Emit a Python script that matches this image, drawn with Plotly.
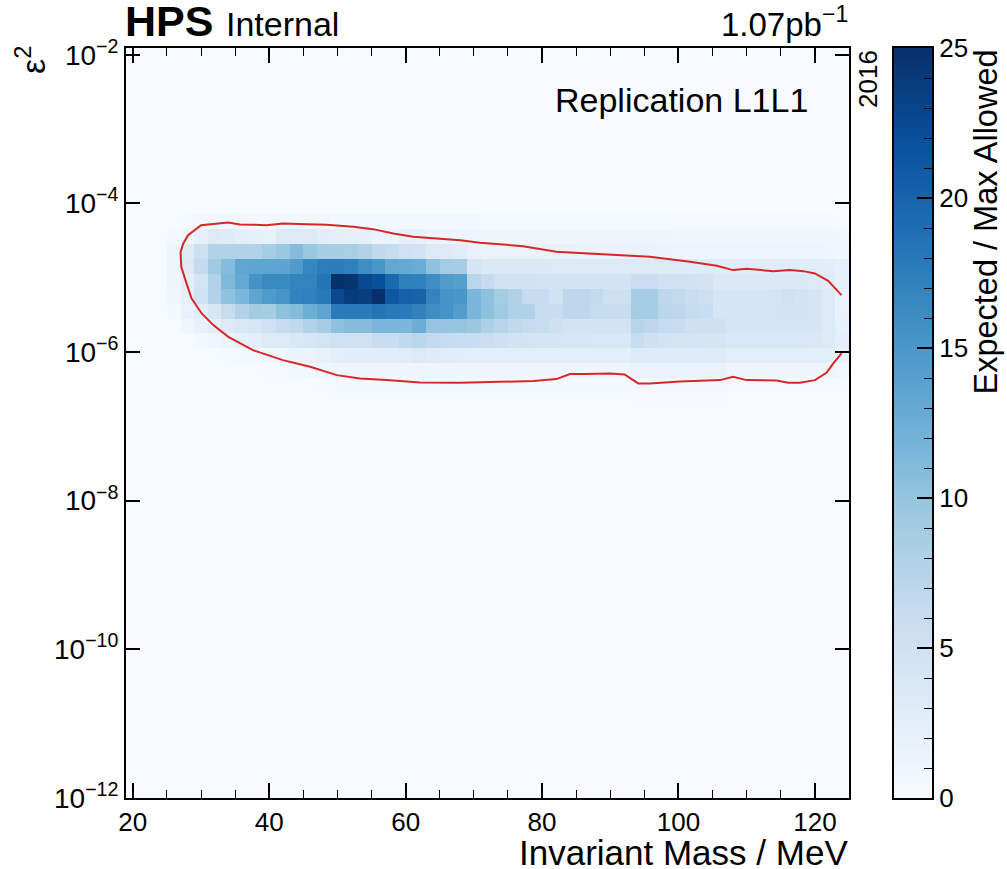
import plotly.graph_objects as go

FONT = "Liberation Sans, Arial, Helvetica, sans-serif"

# ---------------- data ----------------
# bin centres (MeV) and log10(eps^2) bin centres
mass_bins = list(range(20, 126, 2))                     # 53 columns
log_eps2_bins = [round(-12.05 + 0.2 * k, 2) for k in range(52)]

# expected / max allowed, one list per log10(eps^2) row (columns = mass_bins)
row_m4p25 = [0, 0, 0, 0.2, 0.4, 0.6, 0.7, 0.7, 0.7, 0.6,
             0.6, 0.7, 0.7, 0.7, 0.7, 0.6, 0.6, 0.6, 0.5, 0.5,
             0.5, 0.5, 0.5, 0.5, 0.5, 0.5, 0.4, 0.4, 0.4, 0.4,
             0.4, 0.4, 0.4, 0.4, 0.4, 0.4, 0.4, 0.4, 0.4, 0.4,
             0.3, 0.3, 0.3, 0.3, 0.3, 0.3, 0.3, 0.3, 0.3, 0.3,
             0.3, 0.3, 0.2]
row_m4p45 = [0, 0, 0.1, 0.5, 1.1, 2.1, 3.4, 3.0, 2.5, 2.2,
             2.0, 3.4, 3.4, 3.4, 2.8, 2.5, 2.2, 2.1, 1.6, 1.6,
             2.1, 2.1, 1.5, 1.5, 1.2, 1.2, 1.1, 1.1, 1.1, 1.1,
             1.1, 1.1, 1.1, 1.1, 1.1, 1.1, 1.1, 1.1, 1.1, 1.1,
             0.9, 0.9, 0.9, 0.9, 0.9, 0.9, 0.9, 0.9, 0.9, 0.9,
             0.9, 0.9, 0.7]
row_m4p65 = [0, 0, 0.2, 1.1, 3.0, 5.3, 7.9, 7.9, 7.9, 7.9,
             8.8, 9.6, 10.9, 9.6, 8.8, 8.6, 8.5, 7.9, 6.6, 6.3,
             5.1, 4.6, 3.4, 3.2, 2.9, 1.9, 1.8, 1.8, 1.8, 1.7,
             1.7, 1.7, 1.7, 1.6, 1.6, 1.6, 1.6, 1.6, 1.6, 1.5,
             1.3, 1.3, 1.3, 1.2, 1.2, 1.2, 1.2, 1.2, 1.2, 1.2,
             1.2, 1.1, 0.9]
row_m4p85 = [0, 0, 0.25, 1.1, 3.4, 6.4, 9.3, 10.9, 13.4, 13.5,
             13.5, 13.6, 14.6, 16.8, 17.6, 17.7, 17.3, 16.0, 15.2, 13.2,
             13.1, 12.7, 10.3, 8.9, 8.8, 4.2, 3.6, 3.5, 3.5, 3.5,
             3.5, 3.4, 3.4, 3.4, 3.4, 3.4, 3.4, 3.4, 3.4, 3.4,
             3.3, 3.3, 3.3, 2.9, 2.9, 2.9, 2.9, 2.9, 2.9, 2.9,
             2.8, 2.7, 2.1]
row_m5p05 = [0, 0, 0.25, 1.1, 2.5, 4.5, 7.9, 11.3, 13.1, 15.5,
             16.4, 16.4, 17.0, 17.0, 18.5, 25.0, 24.6, 22.6, 22.0, 19.6,
             17.4, 17.3, 16.0, 14.6, 14.2, 7.3, 6.25, 5.1, 5.1, 5.0,
             4.6, 4.6, 4.6, 4.6, 4.6, 4.6, 4.6, 5.6, 5.6, 5.1,
             5.0, 4.8, 4.6, 3.5, 3.5, 3.5, 3.5, 3.5, 3.5, 3.5,
             3.4, 2.9, 2.1]
row_m5p25 = [0, 0, 0.2, 0.9, 2.1, 5.1, 7.9, 10.3, 11.5, 13.5,
             14.6, 15.3, 17.0, 17.3, 18.0, 22.7, 24.0, 23.7, 25.0, 21.2,
             20.3, 20.1, 17.0, 15.4, 15.1, 11.5, 10.4, 8.8, 8.0, 6.25,
             6.2, 5.1, 6.9, 6.9, 6.5, 5.3, 5.3, 8.8, 8.8, 6.9,
             6.5, 5.9, 5.3, 4.2, 4.2, 4.2, 4.2, 4.4, 5.0, 4.6,
             4.2, 3.4, 1.7]
row_m5p45 = [0, 0, 0.2, 0.5, 1.7, 2.9, 4.1, 6.0, 7.9, 9.0,
             8.8, 10.5, 10.9, 12.5, 13.5, 17.8, 17.8, 17.8, 18.5, 18.0,
             17.8, 17.2, 16.1, 15.4, 14.4, 11.6, 10.4, 9.3, 8.0, 8.0,
             5.8, 5.8, 6.9, 6.9, 6.3, 6.0, 6.0, 8.9, 8.9, 7.2,
             6.9, 6.3, 5.8, 4.3, 4.4, 4.4, 4.4, 4.4, 4.6, 4.6,
             4.3, 3.4, 1.8]
row_m5p65 = [0, 0, 0.05, 0.25, 0.9, 1.7, 2.5, 3.4, 3.8, 4.1,
             5.1, 6.25, 6.7, 7.9, 8.8, 10.4, 10.9, 10.9, 11.5, 11.5,
             11.5, 12.6, 10.0, 10.0, 10.0, 9.6, 8.3, 7.4, 6.7, 6.3,
             5.8, 5.2, 4.6, 4.6, 4.6, 4.6, 4.6, 7.4, 6.9, 6.3,
             5.8, 5.2, 5.2, 5.2, 4.2, 4.2, 4.2, 4.2, 4.2, 4.2,
             4.2, 3.4, 2.1]
row_m5p85 = [0, 0, 0, 0.1, 0.2, 0.5, 0.9, 1.5, 2.1, 2.5,
             3.4, 3.4, 3.8, 4.1, 4.5, 5.1, 5.1, 5.1, 5.9, 5.9,
             6.7, 7.2, 6.5, 6.3, 6.0, 5.8, 5.7, 5.2, 4.7, 4.5,
             4.3, 4.2, 4.1, 4.1, 4.0, 4.0, 4.0, 6.0, 5.2, 4.6,
             4.5, 4.4, 4.3, 4.3, 3.9, 3.9, 3.9, 3.9, 3.9, 3.9,
             3.7, 3.4, 2.5]
row_m6p05 = [0, 0, 0, 0, 0, 0.1, 0.2, 0.4, 0.5, 0.8,
             1.1, 1.3, 1.5, 1.6, 2.0, 2.5, 2.8, 2.8, 2.8, 2.8,
             2.9, 3.4, 3.0, 2.9, 2.8, 2.6, 2.6, 2.6, 2.6, 2.6,
             2.6, 2.6, 2.6, 2.6, 2.6, 2.6, 2.6, 3.3, 3.3, 3.3,
             3.3, 3.3, 3.3, 3.3, 2.6, 2.6, 2.6, 2.6, 2.6, 2.6,
             2.6, 2.6, 1.8]
row_m6p25 = [0, 0, 0, 0, 0, 0, 0, 0.1, 0.1, 0.2,
             0.3, 0.4, 0.5, 0.8, 0.9, 1.1, 1.1, 1.1, 1.1, 1.1,
             1.1, 1.1, 1.1, 1.1, 1.1, 1.1, 1.1, 1.1, 1.1, 1.1,
             1.1, 1.1, 1.1, 1.1, 1.1, 1.1, 1.1, 1.7, 1.7, 1.7,
             1.7, 1.7, 1.7, 1.7, 1.1, 1.1, 1.1, 1.1, 1.1, 1.1,
             1.1, 1.1, 0.8]
row_m6p45 = [0, 0, 0, 0, 0, 0, 0, 0, 0, 0.05,
             0.1, 0.15, 0.2, 0.25, 0.3, 0.5, 0.5, 0.5, 0.5, 0.5,
             0.5, 0.5, 0.5, 0.5, 0.5, 0.5, 0.5, 0.5, 0.5, 0.5,
             0.5, 0.5, 0.5, 0.5, 0.5, 0.5, 0.5, 0.6, 0.6, 0.6,
             0.6, 0.6, 0.6, 0.6, 0.4, 0.4, 0.4, 0.4, 0.4, 0.4,
             0.4, 0.4, 0.3]
row_m6p65 = [0, 0, 0, 0, 0, 0, 0, 0, 0, 0,
             0, 0, 0.1, 0.1, 0.15, 0.2, 0.2, 0.2, 0.2, 0.2,
             0.25, 0.25, 0.25, 0.25, 0.25, 0.25, 0.25, 0.25, 0.25, 0.25,
             0.25, 0.25, 0.25, 0.25, 0.25, 0.25, 0.25, 0.3, 0.3, 0.3,
             0.3, 0.3, 0.3, 0.3, 0.15, 0.15, 0.15, 0.15, 0.15, 0.15,
             0.15, 0.15, 0.1]

band_rows = [(-4.25, row_m4p25), (-4.45, row_m4p45), (-4.65, row_m4p65),
             (-4.85, row_m4p85), (-5.05, row_m5p05), (-5.25, row_m5p25),
             (-5.45, row_m5p45), (-5.65, row_m5p65), (-5.85, row_m5p85),
             (-6.05, row_m6p05), (-6.25, row_m6p25), (-6.45, row_m6p45),
             (-6.65, row_m6p65)]

# red exclusion contour (mass in MeV, log10 eps^2)
contour_mass = [123.9, 121.95, 120.0, 118.3, 116.3, 113.9, 110.0, 108.0, 105.6,
                101.7, 95.8, 89.5, 82.1, 77.2, 70.9, 68.0, 61.1, 58.2, 55.2,
                52.3, 48.4, 45.5, 42.0, 39.6, 35.7, 34.0, 30.0,
                28.1, 27.4, 27.0, 27.1, 27.8, 28.6, 30.1, 31.8, 34.0, 37.6,
                42.0, 46.0, 49.9, 53.3, 57.2, 62.1, 68.0, 73.8, 78.7, 82.1,
                84.1, 86.5, 89.9, 92.1, 94.1, 95.8, 100.2, 106.1, 108.0, 110.0,
                114.4, 116.1, 117.8, 120.0, 121.7, 122.7, 123.9]
contour_log_eps2 = [-5.235, -5.042, -4.943, -4.912, -4.898, -4.912, -4.881, -4.898, -4.840,
                    -4.787, -4.720, -4.687, -4.652, -4.576, -4.529, -4.495, -4.450, -4.405, -4.347,
                    -4.316, -4.289, -4.280, -4.270, -4.293, -4.284, -4.257, -4.293,
                    -4.428, -4.539, -4.652, -4.854, -5.056, -5.279, -5.481, -5.638, -5.796, -5.974,
                    -6.109, -6.199, -6.311, -6.355, -6.378, -6.409, -6.414, -6.401, -6.391, -6.364,
                    -6.297, -6.297, -6.288, -6.302, -6.422, -6.422, -6.396, -6.378, -6.334, -6.378,
                    -6.382, -6.414, -6.414, -6.378, -6.280, -6.153, -6.019]

y_tick_vals = [-12, -10, -8, -6, -4, -2]
y_tick_text = ["10<sup>\u221212</sup>", "10<sup>\u221210</sup>", "10<sup>\u22128</sup>",
               "10<sup>\u22126</sup>", "10<sup>\u22124</sup>", "10<sup>\u22122</sup>"]

# colour scale (Blues) and gradient levels for the colour bar strip
blues = [[0.0, "rgb(247,251,255)"], [0.125, "rgb(222,235,247)"], [0.25, "rgb(198,219,239)"],
         [0.375, "rgb(158,202,225)"], [0.5, "rgb(107,174,214)"], [0.625, "rgb(66,146,198)"],
         [0.75, "rgb(33,113,181)"], [0.875, "rgb(8,81,156)"], [1.0, "rgb(8,48,107)"]]
cbar_levels = [i * 0.1 for i in range(251)]

# ---------------- build grid ----------------
z = [[0.0] * len(mass_bins) for _ in log_eps2_bins]
for centre, row in band_rows:
    idx = min(range(len(log_eps2_bins)), key=lambda k: abs(log_eps2_bins[k] - centre))
    z[idx] = row

# ---------------- figure ----------------
W, H = 1007, 869
ML, MR, MT, MB = 126, 40, 48, 71
PW, PH = W - ML - MR, H - MT - MB


def px_x(px):
    return (px - ML) / PW


def px_y(py):
    return (H - MB - py) / PH


fig = go.Figure()
fig.add_trace(go.Heatmap(x=mass_bins, y=log_eps2_bins, z=z, coloraxis="coloraxis",
                         hoverinfo="skip"))
fig.add_trace(go.Scatter(x=contour_mass, y=contour_log_eps2, mode="lines",
                         line=dict(color="#d62728", width=2), hoverinfo="skip",
                         showlegend=False))
fig.add_trace(go.Heatmap(x=[0], y=cbar_levels, z=[[v] for v in cbar_levels],
                         coloraxis="coloraxis", xaxis="x2", yaxis="y2", hoverinfo="skip"))

axis_common = dict(showline=True, linewidth=2, linecolor="black", showgrid=False,
                   zeroline=False, tickcolor="black", tickwidth=1.5)

fig.update_layout(
    width=W, height=H,
    margin=dict(l=ML, r=MR, t=MT, b=MB, pad=0),
    paper_bgcolor="white", plot_bgcolor="#f7fbff",
    showlegend=False,
    coloraxis=dict(colorscale=blues, cmin=0, cmax=25, showscale=False),
    xaxis=dict(domain=[0, px_x(849)], range=[19, 125], tick0=0, dtick=20,
               ticks="inside", ticklen=15, mirror="ticks",
               minor=dict(dtick=5, ticklen=8, ticks="inside", tickcolor="black", tickwidth=1.2),
               tickfont=dict(family=FONT, size=26, color="black"), anchor="y",
               **axis_common),
    yaxis=dict(domain=[0, 1], range=[-12, -1.91], tickmode="array",
               tickvals=y_tick_vals, ticktext=y_tick_text,
               ticks="inside", ticklen=14, mirror="ticks",
               tickfont=dict(family=FONT, size=28, color="black"), anchor="x",
               **axis_common),
    xaxis2=dict(domain=[px_x(894), px_x(932)], range=[-0.5, 0.5], showticklabels=False,
                ticks="", mirror=True, anchor="y2", fixedrange=True,
                showline=True, linewidth=2, linecolor="black", showgrid=False, zeroline=False),
    yaxis2=dict(domain=[0, 1], range=[0, 25], anchor="x2", side="right",
                tick0=0, dtick=5, ticks="inside", ticklen=15, mirror=True,
                minor=dict(dtick=1, ticklen=8, ticks="inside", tickcolor="black", tickwidth=1.2),
                tickfont=dict(family=FONT, size=26, color="black"),
                **axis_common),
)

ann = [
    dict(text="<b>HPS</b>", x=px_x(123), y=px_y(47), xanchor="left", yanchor="bottom",
         font=dict(size=43, family=FONT, color="black")),
    dict(text="Internal", x=px_x(224), y=px_y(45), xanchor="left", yanchor="bottom",
         font=dict(size=34, family=FONT, color="black")),
    dict(text="1.07pb<sup>\u22121</sup>", x=px_x(850), y=px_y(45), xanchor="right",
         yanchor="bottom", font=dict(size=33, family=FONT, color="black")),
    dict(text="Replication L1L1", x=px_x(810), y=px_y(100), xanchor="right",
         yanchor="middle", font=dict(size=34, family=FONT, color="black")),
    dict(text="2016", x=px_x(868), y=px_y(79), xanchor="center", yanchor="middle",
         textangle=-90, font=dict(size=26, family=FONT, color="black")),
    dict(text="Invariant Mass / MeV", x=px_x(850), y=px_y(852), xanchor="right",
         yanchor="middle", font=dict(size=35, family=FONT, color="black")),
    dict(text="\u03b5<sup>2</sup>", x=px_x(30), y=px_y(60), xanchor="center",
         yanchor="middle", textangle=-90, font=dict(size=34, family=FONT, color="black")),
    dict(text="Expected / Max Allowed", x=px_x(985), y=px_y(48), xanchor="center",
         yanchor="top", textangle=-90, font=dict(size=32.5, family=FONT, color="black")),
]
for a in ann:
    a.update(xref="paper", yref="paper", showarrow=False)
fig.update_layout(annotations=ann)

fig.write_html("out.html")
